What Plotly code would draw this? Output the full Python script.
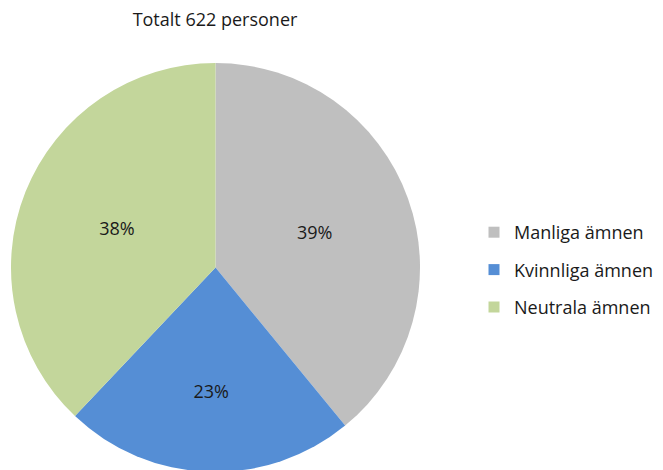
import plotly.graph_objects as go

# ── Data ─────────────────────────────────────────────────────────────
TITLE = "Totalt 622 personer"
labels = ["Manliga ämnen", "Kvinnliga ämnen", "Neutrala ämnen"]
counts = [243, 143, 236]          # 39 % / 23 % / 38 % of 622
colors = ["#BFBFBF", "#558ED5", "#C3D69B"]

FONT = "Open Sans"
TEXT = "#1a1a1a"

W, H = 663, 470

fig = go.Figure()

# ── Pie ──────────────────────────────────────────────────────────────
fig.add_trace(go.Pie(
    labels=labels,
    values=counts,
    sort=False,
    direction="clockwise",
    rotation=0,
    marker=dict(colors=colors, line=dict(width=0)),
    textinfo="percent",
    texttemplate="%{percent:.0%}",
    textposition="inside",
    insidetextorientation="horizontal",
    textfont=dict(size=18, color=TEXT, family=FONT),
    domain=dict(x=[3 / W, 412 / W], y=[6 / H, 1 - 55 / H]),
    showlegend=False,
    hoverinfo="label+value+percent",
))

# ── Legend (dummy markers, so item spacing can be widened) ───────────
for lab, col in zip(labels, colors):
    fig.add_trace(go.Scatter(
        x=[None], y=[None],
        mode="markers",
        name=lab,
        legendgroup=lab,
        marker=dict(symbol="square", size=11, color=col),
        showlegend=True,
    ))

fig.update_layout(
    width=W,
    height=H,
    margin=dict(l=0, r=0, t=0, b=0),
    paper_bgcolor="white",
    plot_bgcolor="white",
    font=dict(family=FONT, color=TEXT),
    title=dict(
        text=TITLE,
        x=207 / W, xanchor="center",
        y=1 - 12 / H, yanchor="middle",
        font=dict(size=18, color=TEXT, family=FONT),
    ),
    xaxis=dict(visible=False),
    yaxis=dict(visible=False),
    legend=dict(
        x=466 / W, xanchor="left",
        y=1 - 262 / H, yanchor="middle",
        traceorder="grouped",
        tracegroupgap=11,
        itemwidth=30,
        font=dict(size=18, color=TEXT, family=FONT),
        bgcolor="rgba(0,0,0,0)",
    ),
)

fig.write_html("out.html")
